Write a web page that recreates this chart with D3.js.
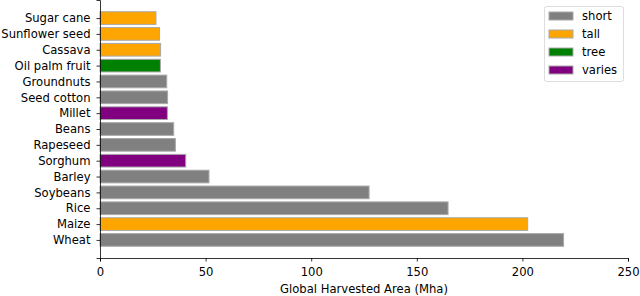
<!DOCTYPE html>
<html><head><meta charset="utf-8">
<script src="https://cdn.jsdelivr.net/npm/d3@7"></script>
<style>body{margin:0;background:#fff}svg{display:block}text{font-family:"DejaVu Sans",sans-serif}</style>
</head><body><svg id="c" width="640" height="296"></svg>
<script>
const crops = ["Wheat","Maize","Rice","Soybeans","Barley","Sorghum","Rapeseed","Beans","Millet","Seed cotton","Groundnuts","Oil palm fruit","Cassava","Sunflower seed","Sugar cane"];
const areas = [219.5,202.5,164.8,127.4,51.6,40.6,35.7,34.9,31.9,32.0,31.6,28.6,28.7,28.2,26.5];
const heights = ["short","tall","short","short","short","varies","short","short","varies","short","short","tree","tall","tall","tall"];
const legendKeys = ["short","tall","tree","varies"];
const legendColors = ["gray","orange","green","purple"];
const xTicks = [0,50,100,150,200,250];
const xLabel = "Global Harvested Area (Mha)";

const FS = 11.6;
const svg = d3.select("#c");
const L=100, R=628, T=0, B=258;
const x = d3.scaleLinear().domain([0,250]).range([L,R]);
const n = crops.length;
const y = d3.scaleLinear().domain([-0.4-0.05*(n-0.2), n-1+0.4+0.05*(n-0.2)]).range([B,T]);
const color = d3.scaleOrdinal().domain(legendKeys).range(legendColors);
const bh = y(0)-y(0.8);

svg.append("g").selectAll("rect").data(crops).join("rect")
  .attr("x", x(0)).attr("y",(d,i)=>y(i+0.4)).attr("width",(d,i)=>x(areas[i])-x(0)).attr("height",bh)
  .attr("fill",(d,i)=>color(heights[i])).attr("stroke","#a9a9a9").attr("stroke-width",1);

const ax = svg.append("g").attr("transform",`translate(0,${B})`)
  .call(d3.axisBottom(x).tickValues(xTicks).tickSize(3.5).tickPadding(6.5).tickFormat(d3.format("d")));
const ay = svg.append("g").attr("transform",`translate(${L},0)`)
  .call(d3.axisLeft(y).tickValues(d3.range(n)).tickSize(3.5).tickPadding(6).tickFormat(i=>crops[i]));
[ax,ay].forEach(g=>{g.selectAll("text").attr("font-size",FS).attr("fill","#000").attr("font-family","DejaVu Sans");
  g.select(".domain").attr("stroke","#000").attr("stroke-width",0.8);
  g.selectAll(".tick line").attr("stroke","#000").attr("stroke-width",0.8);});

svg.append("text").attr("x",(L+R)/2).attr("y",293).attr("text-anchor","middle").attr("font-size",FS).text(xLabel);

const lg = svg.append("g").attr("transform","translate(544,6)");
lg.append("rect").attr("x",0.5).attr("y",0.5).attr("width",79).attr("height",75).attr("rx",2)
  .attr("fill","#fff").attr("stroke","#ddd").attr("stroke-width",1);
legendKeys.forEach((k,i)=>{
  const r = lg.append("g").attr("transform",`translate(0,${10+i*18})`);
  r.append("rect").attr("x",5).attr("y",-4).attr("width",24).attr("height",8).attr("fill",legendColors[i]).attr("stroke","#a9a9a9");
  r.append("text").attr("x",38).attr("y",4.2).attr("font-size",FS).text(k);
});
</script></body></html>
